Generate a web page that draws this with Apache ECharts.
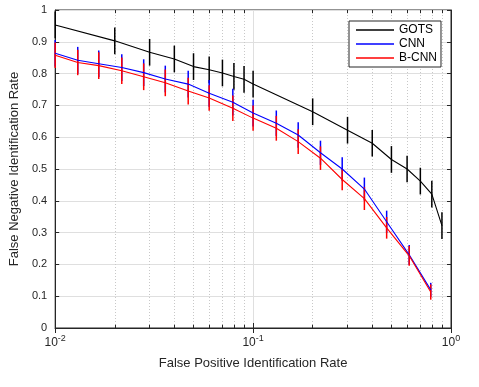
<!DOCTYPE html>
<html>
<head>
<meta charset="utf-8">
<script src="https://cdn.jsdelivr.net/npm/echarts@6/dist/echarts.min.js"></script>
<style>
	html, body { margin: 0; padding: 0; background: #fff; }
	#chart { width: 479px; height: 387px; }
</style>
</head>
<body>
<div id="chart"></div>
<script>
// GOTS
var gotsX = [0.01, 0.02, 0.03, 0.04, 0.05, 0.06, 0.07, 0.08, 0.09, 0.1, 0.2, 0.3, 0.4, 0.5, 0.6, 0.7, 0.8, 0.9]
var gotsY = [0.953, 0.903, 0.867, 0.846, 0.822, 0.812, 0.802, 0.791, 0.782, 0.767, 0.68, 0.622, 0.581, 0.53, 0.5, 0.462, 0.421, 0.322]
var gotsErr = [0.042, 0.042, 0.042, 0.042, 0.042, 0.042, 0.042, 0.042, 0.042, 0.042, 0.042, 0.042, 0.042, 0.042, 0.042, 0.042, 0.042, 0.042]

// CNN / B-CNN share the same FPIR points
var cnnX = [0.01, 0.013, 0.0166, 0.0217, 0.028, 0.036, 0.047, 0.06, 0.079, 0.1, 0.131, 0.169, 0.219, 0.282, 0.365, 0.473, 0.615, 0.79]
var cnnY = [0.864, 0.842, 0.831, 0.819, 0.803, 0.783, 0.767, 0.738, 0.71, 0.676, 0.644, 0.607, 0.551, 0.5, 0.437, 0.334, 0.23, 0.12]
var cnnErr = [0.042, 0.042, 0.042, 0.042, 0.042, 0.042, 0.042, 0.042, 0.042, 0.042, 0.04, 0.04, 0.038, 0.037, 0.036, 0.035, 0.031, 0.022]
var bcnnY = [0.858, 0.835, 0.825, 0.809, 0.79, 0.771, 0.745, 0.723, 0.691, 0.66, 0.628, 0.586, 0.534, 0.467, 0.407, 0.315, 0.227, 0.113]
var bcnnErr = [0.04, 0.04, 0.042, 0.042, 0.042, 0.042, 0.042, 0.04, 0.04, 0.04, 0.039, 0.039, 0.037, 0.034, 0.036, 0.034, 0.031, 0.024]

var names = ['GOTS', 'CNN', 'B-CNN']
var colors = ['#000000', '#0000ff', '#ff0000']

// minor log grid positions (2..9 per decade)
var minorTicks = []
for (var d = 0.01; d < 1; d *= 10) {
	for (var k = 2; k <= 9; k++) {
		minorTicks.push(+(d * k).toPrecision(3))
	}
}

function pairs(xs, ys) {
	var out = []
	for (var i = 0; i < xs.length; i++) out.push([xs[i], ys[i]])
	return out
}
function errData(xs, ys, es) {
	var out = []
	for (var i = 0; i < xs.length; i++) out.push([xs[i], ys[i] - es[i], ys[i] + es[i]])
	return out
}
function errSeries(name, color, data) {
	return {
		name: name + ' err',
		type: 'custom',
		data: data,
		encode: { x: 0, y: [1, 2] },
		clip: false,
		z: 3,
		renderItem: function(params, api) {
			var a = api.coord([api.value(0), api.value(1)])
			var b = api.coord([api.value(0), api.value(2)])
			return {
				type: 'line',
				shape: { x1: a[0], y1: a[1], x2: b[0], y2: b[1] },
				style: { stroke: color, lineWidth: 1.5 }
			}
		}
	}
}
function lineSeries(name, color, data) {
	return {
		name: name,
		type: 'line',
		data: data,
		symbol: 'none',
		color: color,
		z: 3,
		lineStyle: { color: color, width: 1.1 }
	}
}

var gridMarks = []
var tickMarks = []
for (var i = 0; i < minorTicks.length; i++) {
	gridMarks.push({ xAxis: minorTicks[i] })
	tickMarks.push([{ coord: [minorTicks[i], 0] }, { coord: [minorTicks[i], 0.01] }])
	tickMarks.push([{ coord: [minorTicks[i], 1] }, { coord: [minorTicks[i], 0.99] }])
}

var textColor = '#262626'
var fontFamily = '"Liberation Sans", Arial, sans-serif'

var myChart = echarts.init(document.getElementById('chart'))
var option = {
	animation: false,
	backgroundColor: '#fff',
	textStyle: { fontFamily: fontFamily },
	grid: {
		left: 47, right: 28, top: 10, bottom: 59,
		show: true, borderColor: textColor, borderWidth: 1
	},
	legend: {
		data: names,
		orient: 'vertical',
		left: 349,
		top: 21,
		padding: [3, 4, 3, 7],
		itemGap: 2,
		itemWidth: 38,
		itemHeight: 1.5,
		icon: 'rect',
		backgroundColor: '#fff',
		borderColor: textColor,
		borderWidth: 1,
		textStyle: { fontSize: 12, color: '#000', lineHeight: 12, fontFamily: fontFamily }
	},
	xAxis: [{
		type: 'log',
		logBase: 10,
		min: 0.01,
		max: 1,
		name: 'False Positive Identification Rate',
		nameLocation: 'middle',
		nameGap: 26,
		nameTextStyle: { fontSize: 13, color: textColor },
		axisLine: { lineStyle: { color: textColor } },
		axisTick: { inside: true, length: 5, lineStyle: { color: textColor } },
		axisLabel: {
			color: textColor,
			fontSize: 12,
			lineHeight: 18,
			margin: 6,
			formatter: function(v) {
				return '10{sup|' + Math.round(Math.log10(v)) + '}'
			},
			rich: {
				sup: { fontSize: 9, lineHeight: 9, verticalAlign: 'top', color: textColor }
			}
		},
		splitLine: { show: true, lineStyle: { color: '#dfdfdf' } }
	}, {
		type: 'log',
		logBase: 10,
		min: 0.01,
		max: 1,
		position: 'top',
		axisLine: { lineStyle: { color: textColor } },
		axisTick: { inside: true, length: 5, lineStyle: { color: textColor } },
		axisLabel: { show: false },
		splitLine: { show: false }
	}],
	yAxis: [{
		type: 'value',
		min: 0,
		max: 1,
		interval: 0.1,
		name: 'False Negative Identification Rate',
		nameLocation: 'middle',
		nameGap: 27,
		nameTextStyle: { fontSize: 13, color: textColor },
		axisLine: { show: true, lineStyle: { color: textColor } },
		axisTick: { show: true, inside: true, length: 4, lineStyle: { color: textColor } },
		axisLabel: { color: textColor, fontSize: 11, margin: 8 },
		splitLine: { show: true, lineStyle: { color: '#dfdfdf' } }
	}, {
		type: 'value',
		min: 0,
		max: 1,
		interval: 0.1,
		position: 'right',
		axisLine: { show: true, lineStyle: { color: textColor } },
		axisTick: { show: true, inside: true, length: 4, lineStyle: { color: textColor } },
		axisLabel: { show: false },
		splitLine: { show: false }
	}],
	series: [{
		name: 'grid',
		type: 'line',
		data: [],
		z: 1,
		silent: true,
		markLine: {
			silent: true,
			z: 1,
			symbol: 'none',
			label: { show: false },
			animation: false,
			lineStyle: { color: '#c8c8c8', type: [1, 2], width: 1 },
			data: gridMarks
		}
	}, {
		name: 'minor ticks',
		type: 'line',
		data: [],
		z: 1,
		silent: true,
		markLine: {
			silent: true,
			z: 1,
			symbol: 'none',
			label: { show: false },
			animation: false,
			lineStyle: { color: textColor, type: 'solid', width: 1 },
			data: tickMarks
		}
	},
		lineSeries('GOTS', colors[0], pairs(gotsX, gotsY)),
		errSeries('GOTS', colors[0], errData(gotsX, gotsY, gotsErr)),
		lineSeries('CNN', colors[1], pairs(cnnX, cnnY)),
		errSeries('CNN', colors[1], errData(cnnX, cnnY, cnnErr)),
		lineSeries('B-CNN', colors[2], pairs(cnnX, bcnnY)),
		errSeries('B-CNN', colors[2], errData(cnnX, bcnnY, bcnnErr))
	]
}
myChart.setOption(option)

window.onresize = function() {
	myChart.resize()
}
</script>
</body>
</html>
